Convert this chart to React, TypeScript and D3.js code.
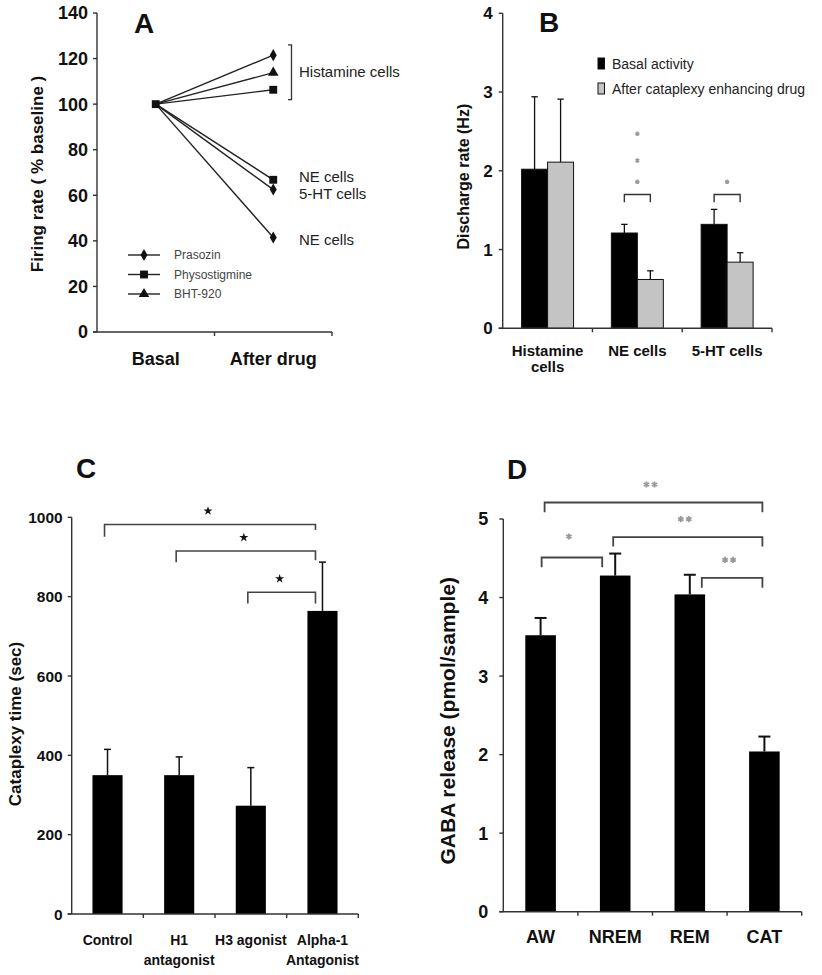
import React from 'react';
import * as d3 from 'd3';

const FONT = '"Liberation Sans", Arial, Helvetica, sans-serif';

// ---------- Panel A data ----------
const aCategories = ['Basal', 'After drug'];
const aTicks = [0, 20, 40, 60, 80, 100, 120, 140];
const aDrugs = ['Prasozin', 'Physostigmine', 'BHT-920'];
const aDrugSymbols = ['diamond', 'square', 'triangle'];
const aLineDrug = ['Prasozin', 'BHT-920', 'Physostigmine', 'Physostigmine', 'Prasozin', 'Prasozin'];
const aBasal = [100, 100, 100, 100, 100, 100];
const aAfter = [121.5, 113.8, 106.3, 66.8, 62.5, 41.5];
const aCellLabels = ['Histamine cells', 'NE cells', '5-HT cells', 'NE cells'];
const aCellLabelValues = [114.2, 68, 60.6, 40.4];
const aHistBracket = [102, 126];

// ---------- Panel B data ----------
const bGroups = ['Histamine cells', 'NE cells', '5-HT cells'];
const bSeries = ['Basal activity', 'After cataplexy enhancing drug'];
const bBasal = [2.02, 1.21, 1.32];
const bBasalErr = [0.92, 0.11, 0.19];
const bAfter = [2.11, 0.62, 0.84];
const bAfterErr = [0.8, 0.11, 0.12];
const bTicks = [0, 1, 2, 3, 4];
const bSigGroups = ['NE cells', '5-HT cells'];
const bSigBracket = [1.7, 1.6];
const bSigStars = [[1.86, 2.13, 2.47], [1.86]];

// ---------- Panel C data ----------
const cCategories = ['Control', 'H1 antagonist', 'H3 agonist', 'Alpha-1 Antagonist'];
const cLabelLines = [['Control'], ['H1', 'antagonist'], ['H3 agonist'], ['Alpha-1', 'Antagonist']];
const cValues = [350, 350, 273, 764];
const cErrors = [65, 46, 96, 123];
const cTicks = [0, 200, 400, 600, 800, 1000];
const cBrackets = [
  { from: 'Control', to: 'Alpha-1 Antagonist', y: 982, leftEnd: 951, rightEnd: 968, label: '*' },
  { from: 'H1 antagonist', to: 'Alpha-1 Antagonist', y: 915, leftEnd: 887, rightEnd: 892, label: '*' },
  { from: 'H3 agonist', to: 'Alpha-1 Antagonist', y: 811, leftEnd: 783, rightEnd: 783, label: '*' },
];

// ---------- Panel D data ----------
const dCategories = ['AW', 'NREM', 'REM', 'CAT'];
const dValues = [3.52, 4.28, 4.04, 2.04];
const dErrors = [0.22, 0.28, 0.25, 0.19];
const dTicks = [0, 1, 2, 3, 4, 5];
const dBrackets = [
  { from: 'AW', to: 'CAT', y: 5.21, end: 5.085, dx1: 4, dx2: -2, stars: 2 },
  { from: 'NREM', to: 'CAT', y: 4.77, end: 4.65, dx1: -2, dx2: -2, stars: 2 },
  { from: 'AW', to: 'NREM', y: 4.51, end: 4.385, dx1: 1, dx2: -13, stars: 1 },
  { from: 'REM', to: 'CAT', y: 4.25, end: 4.125, dx1: 12, dx2: -2, stars: 2 },
];

const AXIS = '#333';
const TXT = '#111';

function symbolPath(kind: string, size: number) {
  const t = kind === 'diamond' ? d3.symbolDiamond : kind === 'square' ? d3.symbolSquare : d3.symbolTriangle;
  return d3.symbol().type(t).size(size)() as string;
}

function YAxis({ scale, ticks, x, tickLen, labelGap, fontSize }: any) {
  const [r0, r1] = scale.range();
  return (
    <g>
      <line x1={x} x2={x} y1={r0} y2={r1} stroke={AXIS} strokeWidth={1.4} />
      {ticks.map((t: number) => (
        <g key={t}>
          <line x1={x - tickLen} x2={x} y1={scale(t)} y2={scale(t)} stroke={AXIS} strokeWidth={1.4} />
          <text x={x - tickLen - labelGap} y={scale(t)} dy="0.36em" textAnchor="end" fontSize={fontSize}
            fontWeight="bold" fill={TXT} fontFamily={FONT}>{t}</text>
        </g>
      ))}
    </g>
  );
}

function XAxis({ band, y, tickLen }: any) {
  const [r0, r1] = band.range();
  const n = band.domain().length;
  const step = (r1 - r0) / n;
  const bounds = d3.range(1, n + 1).map((i) => r0 + step * i);
  return (
    <g>
      <line x1={r0 - 4} x2={r1} y1={y} y2={y} stroke={AXIS} strokeWidth={1.4} />
      {bounds.map((b, i) => (
        <line key={i} x1={b} x2={b} y1={y} y2={y + tickLen} stroke={AXIS} strokeWidth={1.4} />
      ))}
    </g>
  );
}

function ErrorBar({ x, yTop, yBase, half, sw }: any) {
  return (
    <g stroke="#111" strokeWidth={sw}>
      <line x1={x} x2={x} y1={yBase} y2={yTop} />
      <line x1={x - half} x2={x + half} y1={yTop} y2={yTop} />
    </g>
  );
}

function PanelA() {
  const y = d3.scaleLinear().domain([0, 140]).range([332, 13]);
  const x = d3.scaleBand().domain(aCategories).range([97, 332]);
  const cx = (c: string) => (x(c) as number) + x.bandwidth() / 2;
  const symOf = (drug: string) => aDrugSymbols[aDrugs.indexOf(drug)];
  const sizeOf = (k: string) => (k === 'diamond' ? 42 : k === 'square' ? 62 : 48);
  const bx = 291.5;
  return (
    <g>
      <YAxis scale={y} ticks={aTicks} x={97} tickLen={4} labelGap={5} fontSize={18} />
      <XAxis band={x} y={332} tickLen={4} />
      {aCategories.map((c) => (
        <text key={c} x={cx(c)} y={365} textAnchor="middle" fontSize={18} fontWeight="bold" fill={TXT}
          fontFamily={FONT}>{c}</text>
      ))}
      <text transform="translate(43,174) rotate(-90)" textAnchor="middle" fontSize={17} fontWeight="bold"
        fill={TXT} fontFamily={FONT}>Firing rate ( % baseline )</text>
      <text x={134} y={33} fontSize={28} fontWeight="bold" fill={TXT} fontFamily={FONT}>A</text>
      {aAfter.map((v, i) => (
        <line key={i} x1={cx('Basal')} y1={y(aBasal[i])} x2={cx('After drug')} y2={y(v)} stroke="#222"
          strokeWidth={1.4} />
      ))}
      {aAfter.map((v, i) => {
        const k = symOf(aLineDrug[i]);
        return (
          <path key={i} d={symbolPath(k, sizeOf(k))} transform={`translate(${cx('After drug')},${y(v)})`}
            fill="#111" />
        );
      })}
      <path d={symbolPath('square', 62)} transform={`translate(${cx('Basal')},${y(100)})`} fill="#111" />
      <path d={`M${bx - 3.5},${y(aHistBracket[1])}H${bx}V${y(aHistBracket[0])}H${bx - 3.5}`} fill="none"
        stroke="#333" strokeWidth={1.3} />
      {aCellLabels.map((l, i) => (
        <text key={i} x={299} y={y(aCellLabelValues[i])} dy="0.36em" fontSize={15} fill="#222"
          fontFamily={FONT}>{l}</text>
      ))}
      {aDrugs.map((d, i) => {
        const ly = 255 + i * 19.5;
        const k = aDrugSymbols[i];
        return (
          <g key={d}>
            <line x1={128} x2={160} y1={ly} y2={ly} stroke="#222" strokeWidth={1.4} />
            <path d={symbolPath(k, sizeOf(k))} transform={`translate(144,${ly})`} fill="#111" />
            <text x={174} y={ly} dy="0.36em" fontSize={12} fill="#444" fontFamily={FONT}>{d}</text>
          </g>
        );
      })}
    </g>
  );
}

function PanelB() {
  const y = d3.scaleLinear().domain([0, 4]).range([328.3, 13.3]);
  const x0 = d3.scaleBand().domain(bGroups).range([502.7, 772]);
  const x1 = d3.scaleBand().domain(bSeries).range([0, x0.bandwidth()]).paddingOuter(0.727);
  const colors = ['#000', '#c4c4c4'];
  const vals = [bBasal, bAfter];
  const errs = [bBasalErr, bAfterErr];
  const barCx = (g: string, s: string) => (x0(g) as number) + (x1(s) as number) + x1.bandwidth() / 2;
  return (
    <g>
      {bSeries.map((s, si) =>
        bGroups.map((g, gi) => (
          <g key={s + g}>
            <ErrorBar x={barCx(g, s)} yTop={y(vals[si][gi] + errs[si][gi])} yBase={y(vals[si][gi])} half={3.2}
              sw={1.3} />
            <rect x={(x0(g) as number) + (x1(s) as number)} y={y(vals[si][gi])} width={x1.bandwidth()}
              height={y(0) - y(vals[si][gi])} fill={colors[si]} stroke="#111" strokeWidth={1} />
          </g>
        ))
      )}
      <YAxis scale={y} ticks={bTicks} x={502.7} tickLen={4} labelGap={6} fontSize={17} />
      <XAxis band={x0} y={328.3} tickLen={4} />
      {bGroups.map((g) => {
        const cx = (x0(g) as number) + x0.bandwidth() / 2;
        const parts = g === 'Histamine cells' ? ['Histamine', 'cells'] : [g];
        return parts.map((p, i) => (
          <text key={g + i} x={cx} y={356 + i * 16} textAnchor="middle" fontSize={15} fontWeight="bold"
            fill={TXT} fontFamily={FONT}>{p}</text>
        ));
      })}
      <text transform="translate(469,176.7) rotate(-90)" textAnchor="middle" fontSize={16} fontWeight="bold"
        fill={TXT} fontFamily={FONT}>Discharge rate (Hz)</text>
      <text x={539} y={32} fontSize={28} fontWeight="bold" fill={TXT} fontFamily={FONT}>B</text>
      {bSeries.map((s, i) => (
        <g key={s}>
          <rect x={598} y={58 + i * 25} width={6.5} height={11} fill={colors[i]} stroke="#111" strokeWidth={1} />
          <text x={612} y={68.5 + i * 25} fontSize={14} fill="#222" fontFamily={FONT}>{s}</text>
        </g>
      ))}
      {bSigGroups.map((g, i) => {
        const xa = barCx(g, bSeries[0]);
        const xb = barCx(g, bSeries[1]);
        return (
          <g key={g}>
            <path d={`M${xa},${y(bSigBracket[1])}V${y(bSigBracket[0])}H${xb}V${y(bSigBracket[1])}`} fill="none"
              stroke="#333" strokeWidth={1.4} />
            {bSigStars[i].map((sv, j) => (
              <path key={j} d={d3.symbol().type(d3.symbolAsterisk).size(14)() as string}
                transform={`translate(${(xa + xb) / 2},${y(sv)})`} fill="none" stroke="#999" strokeWidth={1.6} />
            ))}
          </g>
        );
      })}
    </g>
  );
}

function PanelC() {
  const y = d3.scaleLinear().domain([0, 1000]).range([914, 517.3]);
  const x = d3.scaleBand().domain(cCategories).range([71.7, 358.3]).paddingInner(0.58).paddingOuter(0.29);
  const cx = (c: string) => (x(c) as number) + x.bandwidth() / 2;
  const full = d3.scaleBand().domain(cCategories).range([71.7, 358.3]);
  return (
    <g>
      {cCategories.map((c, i) => (
        <g key={c}>
          <ErrorBar x={cx(c)} yTop={y(cValues[i] + cErrors[i])} yBase={y(cValues[i])} half={3.5} sw={1.5} />
          <rect x={x(c)} y={y(cValues[i])} width={x.bandwidth()} height={y(0) - y(cValues[i])} fill="#000" />
        </g>
      ))}
      <YAxis scale={y} ticks={cTicks} x={71.7} tickLen={4} labelGap={5} fontSize={15.5} />
      <XAxis band={full} y={914} tickLen={4} />
      {cCategories.map((c, i) =>
        cLabelLines[i].map((l, j) => (
          <text key={c + j} x={cx(c)} y={945 + j * 20} textAnchor="middle" fontSize={14} fontWeight="bold"
            fill={TXT} fontFamily={FONT}>{l}</text>
        ))
      )}
      <text transform="translate(21,724) rotate(-90)" textAnchor="middle" fontSize={17} fontWeight="bold"
        fill={TXT} fontFamily={FONT}>Cataplexy time (sec)</text>
      <text x={76} y={478} fontSize={28} fontWeight="bold" fill={TXT} fontFamily={FONT}>C</text>
      {cBrackets.map((b, i) => {
        const xa = cx(b.from) - 3;
        const xb = cx(b.to) - 7;
        return (
          <g key={i}>
            <path d={`M${xa},${y(b.leftEnd)}V${y(b.y)}H${xb}V${y(b.rightEnd)}`} fill="none" stroke="#444"
              strokeWidth={1.6} />
            <path d={d3.symbol().type(d3.symbolStar).size(26)() as string}
              transform={`translate(${(xa + xb) / 2 - 2},${y(b.y) - 13.5})`} fill="#111" />
          </g>
        );
      })}
    </g>
  );
}

function PanelD() {
  const y = d3.scaleLinear().domain([0, 5]).range([911.7, 519]);
  const x = d3.scaleBand().domain(dCategories).range([503.3, 801.7]).paddingInner(0.59).paddingOuter(0.295);
  const cx = (c: string) => (x(c) as number) + x.bandwidth() / 2;
  const full = d3.scaleBand().domain(dCategories).range([503.3, 801.7]);
  const ast = d3.symbol().type(d3.symbolAsterisk).size(26)() as string;
  return (
    <g>
      {dCategories.map((c, i) => (
        <g key={c}>
          <ErrorBar x={cx(c)} yTop={y(dValues[i] + dErrors[i])} yBase={y(dValues[i])} half={6} sw={2} />
          <rect x={x(c)} y={y(dValues[i])} width={x.bandwidth()} height={y(0) - y(dValues[i])} fill="#000" />
        </g>
      ))}
      <YAxis scale={y} ticks={dTicks} x={503.3} tickLen={4} labelGap={11} fontSize={18} />
      <XAxis band={full} y={911.7} tickLen={4} />
      {dCategories.map((c) => (
        <text key={c} x={cx(c)} y={943.3} textAnchor="middle" fontSize={18} fontWeight="bold" fill={TXT}
          fontFamily={FONT}>{c}</text>
      ))}
      <text transform="translate(455,720.8) rotate(-90)" textAnchor="middle" fontSize={21} fontWeight="bold"
        fill={TXT} fontFamily={FONT}>GABA release (pmol/sample)</text>
      <text x={507} y={479} fontSize={28} fontWeight="bold" fill={TXT} fontFamily={FONT}>D</text>
      {dBrackets.map((b, i) => {
        const xa = cx(b.from) + b.dx1;
        const xb = cx(b.to) + b.dx2;
        const mid = (xa + xb) / 2 - 3;
        const sy = y(b.y) - (b.stars === 1 ? 21 : 18);
        const offs = b.stars === 1 ? [0] : [-4, 4];
        return (
          <g key={i}>
            <path d={`M${xa},${y(b.end)}V${y(b.y)}H${xb}V${y(b.end)}`} fill="none" stroke="#444"
              strokeWidth={1.8} />
            {offs.map((o, j) => (
              <path key={j} d={ast} transform={`translate(${mid + o},${sy})`} fill="none" stroke="#999"
                strokeWidth={1.8} />
            ))}
          </g>
        );
      })}
    </g>
  );
}

export default function App() {
  return (
    <svg width={822} height={975} viewBox="0 0 822 975"
      style={{ position: 'absolute', left: 0, top: 0, background: '#fff' }}>
      <rect width={822} height={975} fill="#fff" />
      <PanelA />
      <PanelB />
      <PanelC />
      <PanelD />
    </svg>
  );
}
